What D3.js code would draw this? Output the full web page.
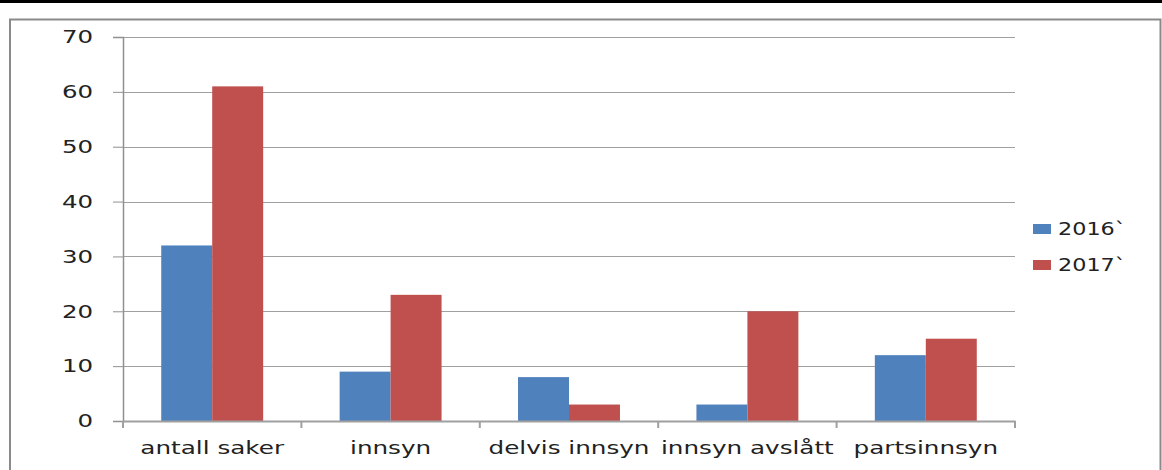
<!DOCTYPE html>
<html><head><meta charset="utf-8">
<script src="https://cdn.jsdelivr.net/npm/d3@7"></script>
<style>body{margin:0;background:#fff}svg{display:block}</style>
</head><body>
<svg id="c" width="1162" height="470"></svg>
<script>
const categories = ["antall saker","innsyn","delvis innsyn","innsyn avslått","partsinnsyn"];
const seriesNames = ["2016`","2017`"];
const values2016 = [32, 9, 8, 3, 12];
const values2017 = [61, 23, 3, 20, 15];
const yTicks = [0,10,20,30,40,50,60,70];
const colors = ["#4F81BD","#C0504D"];

const svg = d3.select("#c");
const font = "DejaVu Sans";
function stretch(sel, s){
  sel.each(function(){
    const t = d3.select(this);
    const ax = +t.attr("x") || 0;
    t.attr("transform", `translate(${ax*(1-s)},0) scale(${s},1)`);
  });
}
// top black rule
svg.append("rect").attr("x",0).attr("y",0).attr("width",1162).attr("height",3).attr("fill","#000");
// chart frame
svg.append("path").attr("d","M10,470 V19.5 H1160.5 V470").attr("fill","none").attr("stroke","#8a8a8a").attr("stroke-width",2);

const x0 = 123, x1 = 1015, yTop = 37, yBot = 421;
const x = d3.scaleBand().domain(categories).range([x0,x1]).paddingInner(0).paddingOuter(0);
const y = d3.scaleLinear().domain([0,70]).range([yBot,yTop]);
const inner = d3.scaleBand().domain(seriesNames).range([0,x.bandwidth()]).paddingInner(0).paddingOuter(0.75);

// gridlines
svg.append("g").selectAll("line").data(yTicks.filter(d=>d>0)).join("line")
  .attr("x1",x0).attr("x2",x1).attr("y1",d=>Math.round(y(d))+0.5).attr("y2",d=>Math.round(y(d))+0.5)
  .attr("stroke","#a0a0a0").attr("stroke-width",1);

// y axis
const yAxis = svg.append("g").attr("transform",`translate(${x0},0)`)
  .call(d3.axisLeft(y).tickValues(yTicks).tickSize(10).tickPadding(20).tickFormat(d3.format("d")));
yAxis.select(".domain").attr("stroke","#909090").attr("stroke-width",1.5);
yAxis.selectAll(".tick line").attr("stroke","#909090");
yAxis.selectAll("text").attr("font-family",font).attr("font-size",18).attr("fill","#222").call(stretch,1.36);

// bars
const series = [values2016, values2017];
series.forEach((vals,si)=>{
  svg.append("g").selectAll("rect").data(categories).join("rect")
    .attr("x",(c)=>x(c)+inner(seriesNames[si]))
    .attr("y",(c,i)=>y(vals[i]))
    .attr("width",inner.bandwidth())
    .attr("height",(c,i)=>y(0)-y(vals[i]))
    .attr("fill",colors[si]);
});

// x axis
const xAxis = svg.append("g").attr("transform",`translate(0,${yBot})`)
  .call(d3.axisBottom(x).tickSize(0).tickPadding(20));
xAxis.select(".domain").attr("stroke","#a0a0a0").attr("stroke-width",2);
xAxis.selectAll("text").attr("font-family",font).attr("font-size",18).attr("fill","#222").call(stretch,1.37);
svg.append("g").selectAll("line").data(d3.range(categories.length+1)).join("line")
  .attr("x1",i=>x0 + i*x.step()).attr("x2",i=>x0 + i*x.step())
  .attr("y1",yBot).attr("y2",yBot+7).attr("stroke","#a0a0a0").attr("stroke-width",2);

// legend
const leg = svg.append("g");
seriesNames.forEach((n,i)=>{
  const cy = 229 + i*36;
  leg.append("rect").attr("x",1033).attr("y",cy-5).attr("width",18).attr("height",10).attr("fill",colors[i]);
  leg.append("text").attr("x",1058).attr("y",cy).attr("dy","0.36em").text(n)
    .attr("font-family",font).attr("font-size",18).attr("fill","#222").call(stretch,1.24);
});
</script>
</body></html>
